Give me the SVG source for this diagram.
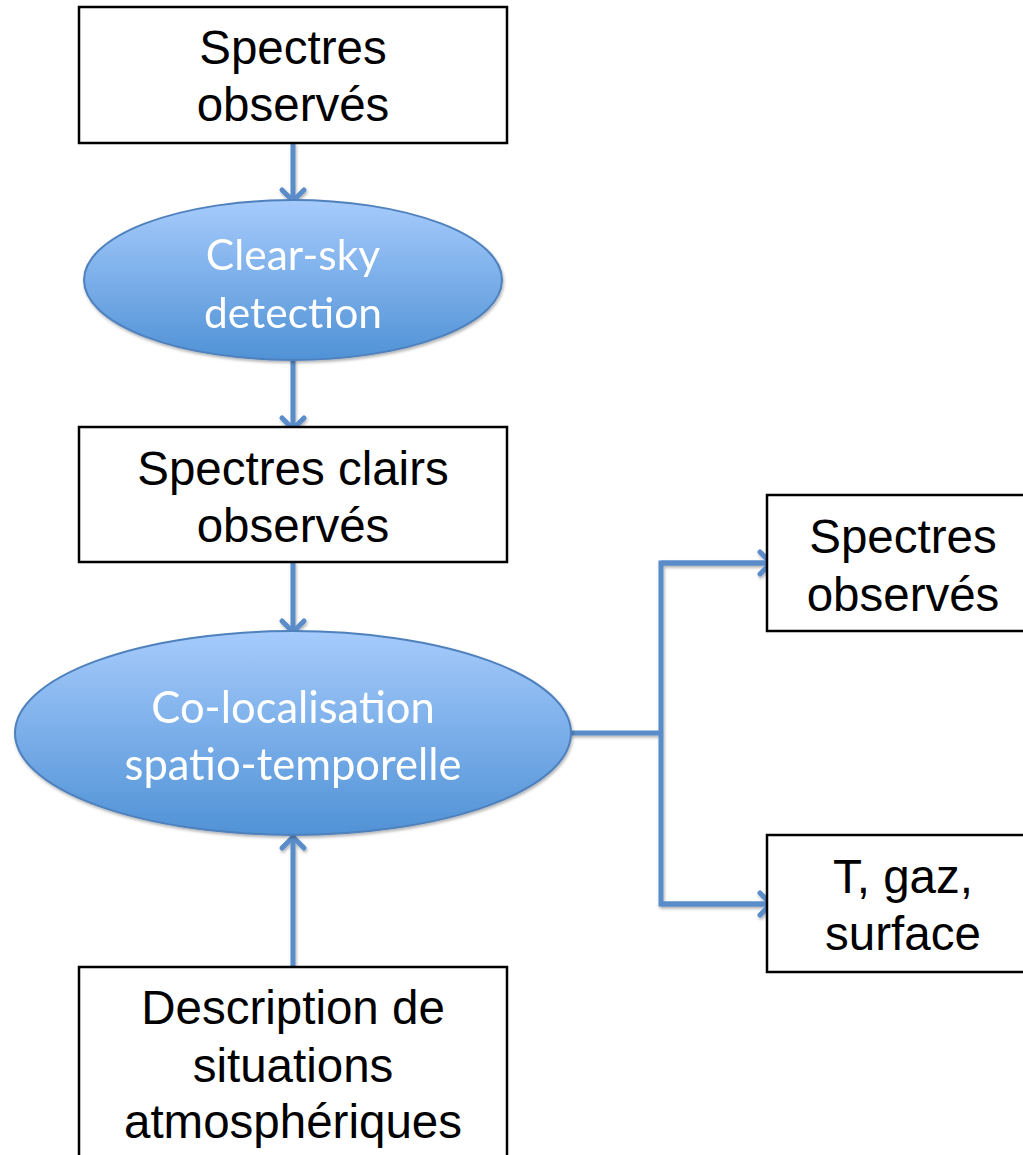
<svg xmlns="http://www.w3.org/2000/svg" width="1023" height="1155" viewBox="0 0 1023 1155">
<style>
.box{fill:#fff;stroke:#000;stroke-width:2.5}
.ell{fill:url(#g);stroke:#4f81bd;stroke-width:2}
.bt{font-family:"Liberation Sans",Arial,sans-serif;font-size:47.5px;fill:#000;text-anchor:middle}
.et{font-family:Lato,"Open Sans",sans-serif;fill:#fff;text-anchor:middle}
.con{fill:none;stroke:#5a8cc9;stroke-width:5;stroke-linejoin:miter}
</style>
<defs>
<linearGradient id="g" x1="0" y1="0" x2="0" y2="1">
<stop offset="0" stop-color="#a6cbfc"/>
<stop offset="1" stop-color="#5092d6"/>
</linearGradient>
<filter id="sh" x="-10%" y="-10%" width="120%" height="130%">
<feDropShadow dx="1" dy="2" stdDeviation="1.5" flood-color="#000" flood-opacity="0.3"/>
</filter>
<marker id="arr" viewBox="-14 -13 16 26" refX="0" refY="0" markerWidth="16" markerHeight="26" markerUnits="userSpaceOnUse" orient="auto" overflow="visible">
<path d="M-11,-11 L0,0 L-11,11" fill="none" stroke="#5a8cc9" stroke-width="5" stroke-linecap="round" stroke-linejoin="miter"/>
</marker>
</defs>
<g id="connectors" filter="url(#sh)">
<line class="con" x1="293" y1="143" x2="293" y2="201" marker-end="url(#arr)"/>
<line class="con" x1="293" y1="360" x2="293" y2="429" marker-end="url(#arr)"/>
<line class="con" x1="293" y1="562" x2="293" y2="632" marker-end="url(#arr)"/>
<line class="con" x1="293" y1="967" x2="293" y2="837" marker-end="url(#arr)"/>
<polyline class="con" points="571,733 661,733"/>
<polyline class="con" points="771,563 661,563 661,904 771,904"/>
<line class="con" x1="661" y1="563" x2="771" y2="563" marker-end="url(#arr)"/>
<line class="con" x1="661" y1="904" x2="771" y2="904" marker-end="url(#arr)"/>
</g>
<g id="n1">
<rect class="box" x="79" y="7" width="428" height="136"/>
<text class="bt" x="293" y="64">Spectres</text>
<text class="bt" x="293" y="121">observés</text>
</g>
<g id="n2" filter="url(#sh)">
<ellipse class="ell" cx="293" cy="280" rx="209" ry="80"/>
<text class="et" x="293" y="270" font-size="42.5">Clear-sky</text>
<text class="et" x="293" y="328" font-size="42.5">detection</text>
</g>
<g id="n3">
<rect class="box" x="79" y="427" width="428" height="135"/>
<text class="bt" x="293" y="485">Spectres clairs</text>
<text class="bt" x="293" y="542">observés</text>
</g>
<g id="n4" filter="url(#sh)">
<ellipse class="ell" cx="293" cy="733" rx="278" ry="102"/>
<text class="et" x="293" y="723" font-size="43.5">Co-localisation</text>
<text class="et" x="293" y="780" font-size="43.5">spatio-temporelle</text>
</g>
<g id="n5">
<rect class="box" x="767" y="495" width="280" height="136"/>
<text class="bt" x="903" y="553">Spectres</text>
<text class="bt" x="903" y="611">observés</text>
</g>
<g id="n6">
<rect class="box" x="767" y="835" width="280" height="137"/>
<text class="bt" x="903" y="893">T, gaz,</text>
<text class="bt" x="903" y="950">surface</text>
</g>
<g id="n7">
<rect class="box" x="79" y="967" width="428" height="200"/>
<text class="bt" x="293" y="1024">Description de</text>
<text class="bt" x="293" y="1082">situations</text>
<text class="bt" x="293" y="1138">atmosphériques</text>
</g>
</svg>
